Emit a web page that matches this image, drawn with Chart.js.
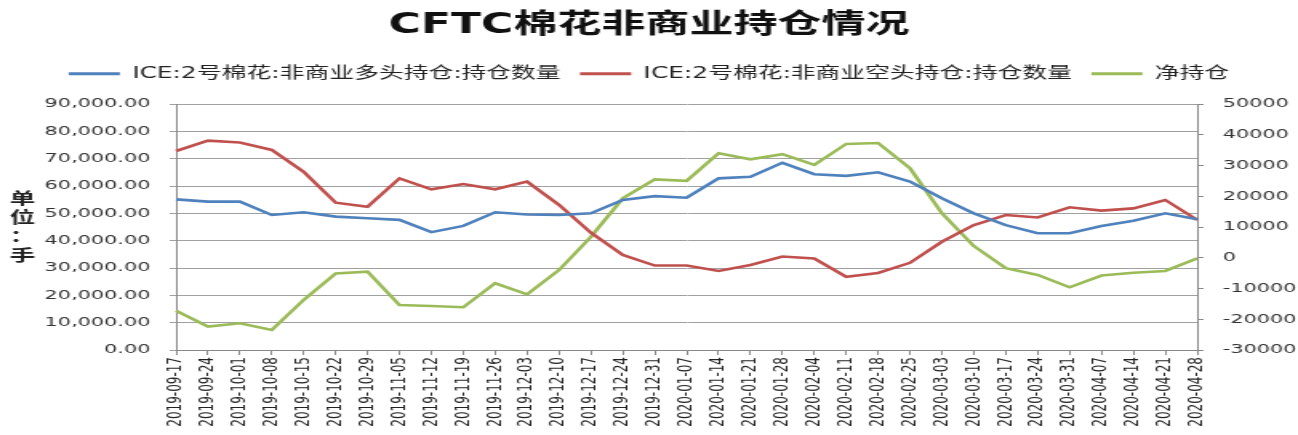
<!DOCTYPE html>
<html>
<head>
<meta charset="utf-8">
<script src="https://cdn.jsdelivr.net/npm/chart.js@4"></script>
<style>
  body { margin: 0; background: #fff; }
  #c { display: block; }
</style>
</head>
<body>
<!-- the source picture is stretched sideways, so the canvas is too -->
<canvas id="c" width="811" height="435" style="width:1298px;height:435px"></canvas>
<script>
var dates = ["2019-09-17","2019-09-24","2019-10-01","2019-10-08","2019-10-15","2019-10-22","2019-10-29",
  "2019-11-05","2019-11-12","2019-11-19","2019-11-26","2019-12-03","2019-12-10","2019-12-17","2019-12-24",
  "2019-12-31","2020-01-07","2020-01-14","2020-01-21","2020-01-28","2020-02-04","2020-02-11","2020-02-18",
  "2020-02-25","2020-03-03","2020-03-10","2020-03-17","2020-03-24","2020-03-31","2020-04-07","2020-04-14",
  "2020-04-21","2020-04-28"];

var longPos = [55100, 54300, 54300, 49400, 50400, 48800, 48200, 47600, 43100, 45400, 50400, 49600, 49400,
  50000, 54900, 56300, 55700, 62800, 63400, 68500, 64300, 63700, 65000, 61600, 55500, 50000, 45700, 42700,
  42700, 45400, 47300, 50000, 47800];

var shortPos = [72800, 76600, 75900, 73200, 65200, 53900, 52400, 62800, 58800, 60700, 58800, 61600, 53100,
  42900, 34800, 30900, 30900, 28900, 31100, 34200, 33500, 26800, 28200, 31900, 39600, 45700, 49400, 48500,
  52200, 51000, 51800, 54900, 47600];

var netPos = [-17200, -22400, -21300, -23500, -13700, -5100, -4500, -15400, -15700, -16100, -8300, -11900,
  -4000, 6800, 19300, 25500, 25000, 34000, 32000, 33700, 30200, 37000, 37300, 29100, 14500, 3800, -3400,
  -5600, -9600, -5800, -4900, -4300, -200];

var seriesNames = ["ICE:2号棉花:非商业多头持仓:持仓数量", "ICE:2号棉花:非商业空头持仓:持仓数量", "净持仓"];
var yTitle = ["单", "位", "：", "手"];

var FONT = "'DejaVu Sans', 'Noto Sans CJK SC', sans-serif";

// stacked axis title on the left
var sideTitle = {
  id: "sideTitle",
  beforeInit: function (chart) {
    var fit = chart.legend.fit;
    chart.legend.fit = function () {
      fit.call(this);
      this.height = 50;
    };
  },
  afterDraw: function (chart) {
    var ctx = chart.ctx;
    ctx.save();
    ctx.font = "bold 16px 'Noto Sans CJK SC', sans-serif";
    ctx.fillStyle = "#222";
    ctx.textAlign = "center";
    ctx.textBaseline = "middle";
    for (var i = 0; i < yTitle.length; i++) {
      ctx.fillText(yTitle[i], 14, 198 + i * 19);
    }
    ctx.restore();
  }
};

new Chart(document.getElementById("c"), {
  type: "line",
  data: {
    labels: dates,
    datasets: [
      { label: seriesNames[0], data: longPos, yAxisID: "y", borderColor: "#4F81BD", backgroundColor: "#4F81BD" },
      { label: seriesNames[1], data: shortPos, yAxisID: "y", borderColor: "#C0504D", backgroundColor: "#C0504D" },
      { label: seriesNames[2], data: netPos, yAxisID: "y1", borderColor: "#9BBB59", backgroundColor: "#9BBB59" }
    ]
  },
  options: {
    responsive: false,
    devicePixelRatio: 1,
    animation: false,
    layout: { padding: 0 },
    elements: {
      line: { borderWidth: 2.6, tension: 0 },
      point: { radius: 0, borderWidth: 3 }
    },
    plugins: {
      title: {
        display: true,
        text: "CFTC棉花非商业持仓情况",
        color: "#111",
        font: { family: FONT, size: 27.5, weight: "bold" },
        padding: { top: 9, bottom: 12 }
      },
      legend: {
        display: true,
        position: "top",
        labels: {
          usePointStyle: true,
          pointStyle: "line",
          pointStyleWidth: 32,
          padding: 12,
          color: "#222",
          font: { family: FONT, size: 15.5 }
        }
      },
      tooltip: { enabled: false }
    },
    scales: {
      x: {
        offset: false,
        afterFit: function (s) { s.height = 85; },
        grid: { drawOnChartArea: false, drawTicks: true, tickLength: 5, color: "#888" },
        border: { color: "#888" },
        ticks: {
          autoSkip: false,
          maxRotation: 90,
          minRotation: 90,
          padding: 2,
          color: "#222",
          font: { family: FONT, size: 12 }
        }
      },
      y: {
        position: "left",
        min: 0,
        max: 90000,
        afterFit: function (s) { s.width = 110; },
        grid: { color: "#a0a0a0", tickLength: 4 },
        border: { color: "#888" },
        ticks: {
          stepSize: 10000,
          padding: 12,
          color: "#333",
          font: { family: FONT, size: 13 },
          callback: function (v) {
            return v.toLocaleString("en-US", { minimumFractionDigits: 2, maximumFractionDigits: 2 });
          }
        }
      },
      y1: {
        position: "right",
        min: -30000,
        max: 50000,
        afterFit: function (s) { s.width = 63; },
        grid: { drawOnChartArea: false, tickLength: 4, color: "#888" },
        border: { color: "#888" },
        ticks: {
          stepSize: 10000,
          padding: 12,
          color: "#333",
          font: { family: FONT, size: 13 },
          callback: function (v) { return String(v); }
        }
      }
    }
  },
  plugins: [sideTitle]
});
</script>
</body>
</html>
